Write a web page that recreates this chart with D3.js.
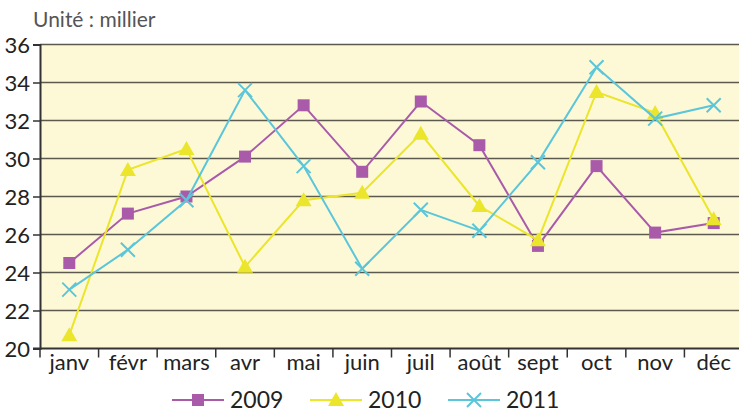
<!DOCTYPE html>
<html>
<head>
<meta charset="utf-8">
<script src="https://cdn.jsdelivr.net/npm/d3@7"></script>
<style>
  body { margin: 0; background: #fff; }
  svg { display: block; font-family: Lato, "Open Sans", sans-serif; }
</style>
</head>
<body>
<script>
// monthly figures, unit: thousands
var months = ['janv', 'févr', 'mars', 'avr', 'mai', 'juin', 'juil', 'août', 'sept', 'oct', 'nov', 'déc'];
var years = ['2009', '2010', '2011'];
var v2009 = [24.5, 27.1, 28.0, 30.1, 32.8, 29.3, 33.0, 30.7, 25.4, 29.6, 26.1, 26.6];
var v2010 = [20.7, 29.4, 30.5, 24.3, 27.8, 28.2, 31.3, 27.5, 25.7, 33.5, 32.4, 26.8];
var v2011 = [23.1, 25.2, 27.8, 33.6, 29.6, 24.2, 27.3, 26.2, 29.8, 34.8, 32.1, 32.8];
var yTicks = [20, 22, 24, 26, 28, 30, 32, 34, 36];

var width = 739, height = 412;
var plotLeft = 40, plotRight = 743, plotTop = 44.5, plotBottom = 348.5;

var series = [
  {name: years[0], values: v2009, color: '#a95ba9', shape: 'square'},
  {name: years[1], values: v2010, color: '#ebe52b', shape: 'triangle'},
  {name: years[2], values: v2011, color: '#5bc6da', shape: 'cross'}
];

var svg = d3.select('body').append('svg')
  .attr('width', width)
  .attr('height', height);

var x = d3.scaleBand().domain(months).range([plotLeft, plotRight]);
var y = d3.scaleLinear().domain([20, 36]).range([plotBottom, plotTop]);

// plot background
svg.append('rect')
  .attr('x', plotLeft).attr('y', plotTop)
  .attr('width', plotRight - plotLeft).attr('height', plotBottom - plotTop)
  .attr('fill', '#fdf9d7');

// grid lines
svg.append('g').selectAll('line')
  .data(yTicks.slice(1))
  .enter().append('line')
  .attr('x1', plotLeft).attr('x2', plotRight)
  .attr('y1', function(d){ return y(d); })
  .attr('y2', function(d){ return y(d); })
  .attr('stroke', '#5c5a4e')
  .attr('stroke-width', 1.6);

// y axis
var yAxis = svg.append('g')
  .attr('transform', 'translate(' + plotLeft + ',0)')
  .call(d3.axisLeft(y).tickValues(yTicks).tickSize(7).tickPadding(3).tickFormat(d3.format('d')));
yAxis.select('.domain').attr('stroke', '#333').attr('stroke-width', 2);
yAxis.selectAll('.tick line').attr('stroke', '#333').attr('stroke-width', 1.5);
yAxis.selectAll('text').attr('fill', '#222').style('font-size', '22px')
  .style('font-family', 'Lato, sans-serif').attr('dy', '0.36em');

// x axis, ticks at the band edges
var xAxis = svg.append('g')
  .attr('transform', 'translate(0,' + plotBottom + ')');
xAxis.append('line')
  .attr('x1', plotLeft - 7).attr('x2', plotRight)
  .attr('stroke', '#333').attr('stroke-width', 2);
xAxis.selectAll('.edge')
  .data(months)
  .enter().append('line')
  .attr('class', 'edge')
  .attr('x1', function(d){ return x(d); })
  .attr('x2', function(d){ return x(d); })
  .attr('y1', 0).attr('y2', 9)
  .attr('stroke', '#333').attr('stroke-width', 1.5);
xAxis.selectAll('text')
  .data(months)
  .enter().append('text')
  .attr('x', function(d){ return x(d) + x.bandwidth() / 2; })
  .attr('y', 21)
  .attr('text-anchor', 'middle')
  .attr('fill', '#222')
  .style('font-size', '22px')
  .text(function(d){ return d; });

// title
svg.append('text')
  .attr('x', 33).attr('y', 27)
  .attr('fill', '#555')
  .style('font-size', '21px')
  .text('Unité : millier');

function marker(sel, shape, color) {
  if (shape === 'square') {
    sel.append('rect')
      .attr('x', -6).attr('y', -6).attr('width', 12).attr('height', 12)
      .attr('fill', color);
  } else if (shape === 'triangle') {
    sel.append('path')
      .attr('d', 'M0,-8L8,6L-8,6Z')
      .attr('fill', color);
  } else {
    sel.append('path')
      .attr('d', 'M-7,-7L7,7M-7,7L7,-7')
      .attr('stroke', color).attr('stroke-width', 2).attr('fill', 'none');
  }
}

var line = d3.line()
  .x(function(d, i){ return x(months[i]) + x.bandwidth() / 2; })
  .y(function(d){ return y(d); });

var plot = svg.append('g');
series.forEach(function(s) {
  var g = plot.append('g');
  g.append('path')
    .attr('d', line(s.values))
    .attr('fill', 'none')
    .attr('stroke', s.color)
    .attr('stroke-width', 2);
  g.selectAll('.pt')
    .data(s.values)
    .enter().append('g')
    .attr('class', 'pt')
    .attr('transform', function(d, i){
      return 'translate(' + (x(months[i]) + x.bandwidth() / 2) + ',' + y(d) + ')';
    })
    .each(function(){ marker(d3.select(this), s.shape, s.color); });
});

// legend
var legendX = d3.scalePoint().domain(years).range([172, 448]);
var legend = svg.append('g');
series.forEach(function(s) {
  var lx = legendX(s.name), ly = 400;
  var g = legend.append('g').attr('transform', 'translate(' + lx + ',' + ly + ')');
  g.append('line')
    .attr('x1', 0).attr('x2', 52)
    .attr('stroke', s.color).attr('stroke-width', 2);
  var m = g.append('g').attr('transform', 'translate(26,0)');
  marker(m, s.shape, s.color);
  g.append('text')
    .attr('x', 58).attr('y', 8)
    .attr('fill', '#222')
    .style('font-size', '23px')
    .text(s.name);
});
</script>
</body>
</html>
